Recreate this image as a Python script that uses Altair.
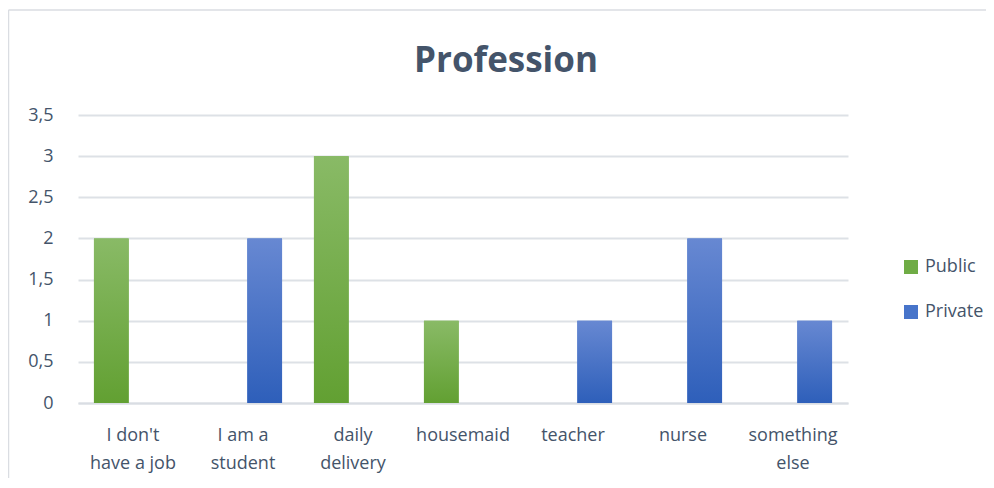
import altair as alt
import pandas as pd

categories = ["I don't|have a job", "I am a|student", "daily|delivery", "housemaid", "teacher", "nurse", "something|else"]
public_vals = [2, 0, 3, 1, 0, 0, 0]
private_vals = [0, 2, 0, 0, 1, 2, 1]
series = ["Public", "Private"]

rows = []
for c, pu, pr in zip(categories, public_vals, private_vals):
    rows.append({"cat": c, "series": "Public", "value": pu})
    rows.append({"cat": c, "series": "Private", "value": pr})
df = pd.DataFrame(rows)

FONT = "Open Sans"
TXT = "#44546A"

def grad(top, bottom):
    return alt.LinearGradient(
        gradient="linear",
        stops=[alt.GradientStop(color=top, offset=0), alt.GradientStop(color=bottom, offset=1)],
        x1=0, x2=0, y1=0, y2=1,
    )

x_enc = alt.X("cat:N", sort=categories, title=None,
              scale=alt.Scale(paddingInner=0.29, paddingOuter=0.145),
              axis=alt.Axis(labelExpr="split(datum.label, '|')", labelAngle=0,
                            labelFontSize=18, labelColor=TXT, labelFont=FONT,
                            labelPadding=32, ticks=False, domain=True,
                            domainColor="#D9DDE3", domainWidth=2, labelLineHeight=28,
                            labelBaseline="middle"))
y_enc = alt.Y("value:Q", title=None,
              scale=alt.Scale(domain=[0, 3.5]),
              axis=alt.Axis(values=[0, 0.5, 1, 1.5, 2, 2.5, 3, 3.5],
                            labelExpr="replace(format(datum.value, '.1~f'), '.', ',')",
                            labelFontSize=18, labelColor=TXT, labelFont=FONT,
                            labelPadding=25, ticks=False, domain=False,
                            gridColor="#DDE1E6", gridWidth=2))
xo = alt.XOffset("series:N", sort=series, scale=alt.Scale(paddingInner=0.2))

base = alt.Chart(df).mark_bar().encode(
    x=x_enc, y=y_enc, xOffset=xo,
    color=alt.Color("series:N", sort=series, title=None,
                    scale=alt.Scale(domain=series, range=["#6FAC45", "#4774CA"]),
                    legend=alt.Legend(orient="none", legendX=824, legendY=143,
                                      symbolType="square", symbolSize=196,
                                      symbolStrokeWidth=0,
                                      labelFontSize=18, labelFont=FONT, labelColor=TXT,
                                      rowPadding=27, labelOffset=5)),
)

pub = alt.Chart(df).transform_filter(alt.datum.series == "Public").mark_bar(
    color=grad("#89BA66", "#62A032")).encode(x=x_enc, y=y_enc, xOffset=xo)
pri = alt.Chart(df).transform_filter(alt.datum.series == "Private").mark_bar(
    color=grad("#6788D2", "#2E5FBA")).encode(x=x_enc, y=y_enc, xOffset=xo)

frame = pd.DataFrame({"k": [0]})
border_left = alt.Chart(frame).mark_rule(color="#DADDE2", strokeWidth=1.5).encode(
    x=alt.value(-69.5), y=alt.value(-105), y2=alt.value(380))
border_top = alt.Chart(frame).mark_rule(color="#DADDE2", strokeWidth=1.5).encode(
    x=alt.value(-69.5), x2=alt.value(920), y=alt.value(-105))

chart = alt.layer(border_left, border_top, base, pub, pri).properties(
    width=770, height=288,
    title=alt.TitleParams("Profession", fontSize=35, fontWeight="bold", font=FONT,
                          color=TXT, anchor="middle", dx=43, offset=-70),
    autosize=alt.AutoSizeParams(type="none"),
    padding={"left": 70, "top": 107, "right": 138, "bottom": 75},
).configure_view(stroke=None)

chart.save("out.html", embed_options={"renderer": "svg", "actions": False})
